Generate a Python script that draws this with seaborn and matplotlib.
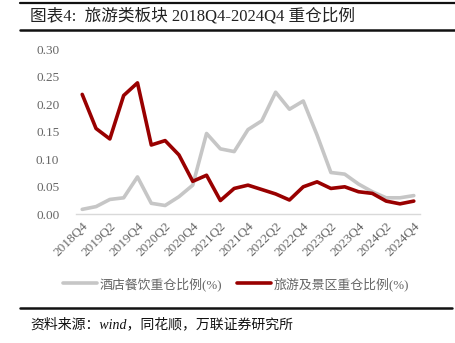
import matplotlib
matplotlib.use("Agg")
import matplotlib.pyplot as plt
import seaborn as sns
import pandas as pd
from matplotlib.lines import Line2D

quarters = [f"{y}Q{q}" for y, q in
            [(2018, 4)] + [(y, q) for y in range(2019, 2025) for q in (1, 2, 3, 4)]]

hotel = [0.009, 0.014, 0.027, 0.030, 0.068, 0.020, 0.016, 0.032, 0.053,
         0.147, 0.119, 0.114, 0.154, 0.170, 0.222, 0.191, 0.206, 0.144,
         0.076, 0.073, 0.055, 0.041, 0.030, 0.030, 0.034]
tourism = [0.218, 0.156, 0.137, 0.216, 0.239, 0.126, 0.134, 0.108, 0.060,
           0.071, 0.025, 0.047, 0.053, 0.045, 0.037, 0.026, 0.050, 0.059,
           0.047, 0.050, 0.041, 0.038, 0.024, 0.019, 0.024]

hotel_name = "酒店餐饮重仓比例(%)"
tour_name = "旅游及景区重仓比例(%)"
title = "图表4:  旅游类板块 2018Q4-2024Q4 重仓比例"
source = "资料来源：wind，同花顺，万联证券研究所"
yticks = [0.00, 0.05, 0.10, 0.15, 0.20, 0.25, 0.30]

sns.set_theme(style="white")
plt.rcParams['font.family'] = ['Liberation Serif', 'Noto Sans CJK SC', 'DejaVu Sans']

df = pd.DataFrame({"idx": list(range(len(quarters))) * 2,
                   "value": hotel + tourism,
                   "series": [hotel_name] * len(quarters) + [tour_name] * len(quarters)})

fig = plt.figure(figsize=(4.56, 3.43), dpi=100)
ax = fig.add_axes([76 / 456, 1 - 214.3 / 343, (420 - 76) / 456, 165 / 343])

gray = "#c6c6c6"
red = "#990000"
sns.lineplot(data=df, x="idx", y="value", hue="series",
             palette={hotel_name: gray, tour_name: red},
             linewidth=2.6, ax=ax, legend=False)

ax.set_xlim(-0.45, 24.45)
ax.set_ylim(0, 0.30)
ax.set_yticks(yticks)
ax.set_yticklabels([f"{v:.2f}" for v in yticks], color="#666666", fontsize=9.5)
ax.set_xticks(range(0, len(quarters), 2))
ax.set_xticklabels(quarters[::2], rotation=45, ha="right", rotation_mode="anchor",
                   color="#666666", fontsize=9.5)
ax.tick_params(axis="both", length=0, pad=4)
ax.tick_params(axis="y", pad=12)
ax.set_xlabel("")
ax.set_ylabel("")
for s in ["top", "right", "left"]:
    ax.spines[s].set_visible(False)
ax.spines["bottom"].set_color("#d9d9d9")
ax.spines["bottom"].set_linewidth(1.0)
ax.grid(False)

handles = [Line2D([0], [0], color=gray, lw=2.6), Line2D([0], [0], color=red, lw=2.6)]
fig.legend(handles, [hotel_name, tour_name], loc="center", bbox_to_anchor=(236 / 456, 1 - 284 / 343),
           ncol=2, frameon=False, fontsize=9.3, handlelength=2.6, handletextpad=0.2,
           columnspacing=1.2, labelcolor="#666666")

# title & rules
fig.add_artist(Line2D([20 / 456, 1], [1 - 2.5 / 343] * 2, color="#111111", lw=1.6))
fig.add_artist(Line2D([20 / 456, 1], [1 - 30 / 343] * 2, color="#111111", lw=1.8))
fig.text(30 / 456, 1 - 16 / 343, title, fontsize=12, va="center", ha="left", color="#222222")
fig.add_artist(Line2D([20 / 456, 452 / 456], [1 - 308 / 343] * 2, color="#111111", lw=1.8))
fig.text(30 / 456, 1 - 324 / 343, source, fontsize=10, va="center", ha="left",
         style="italic", color="#111111")

fig.savefig("out.png", dpi=100)
